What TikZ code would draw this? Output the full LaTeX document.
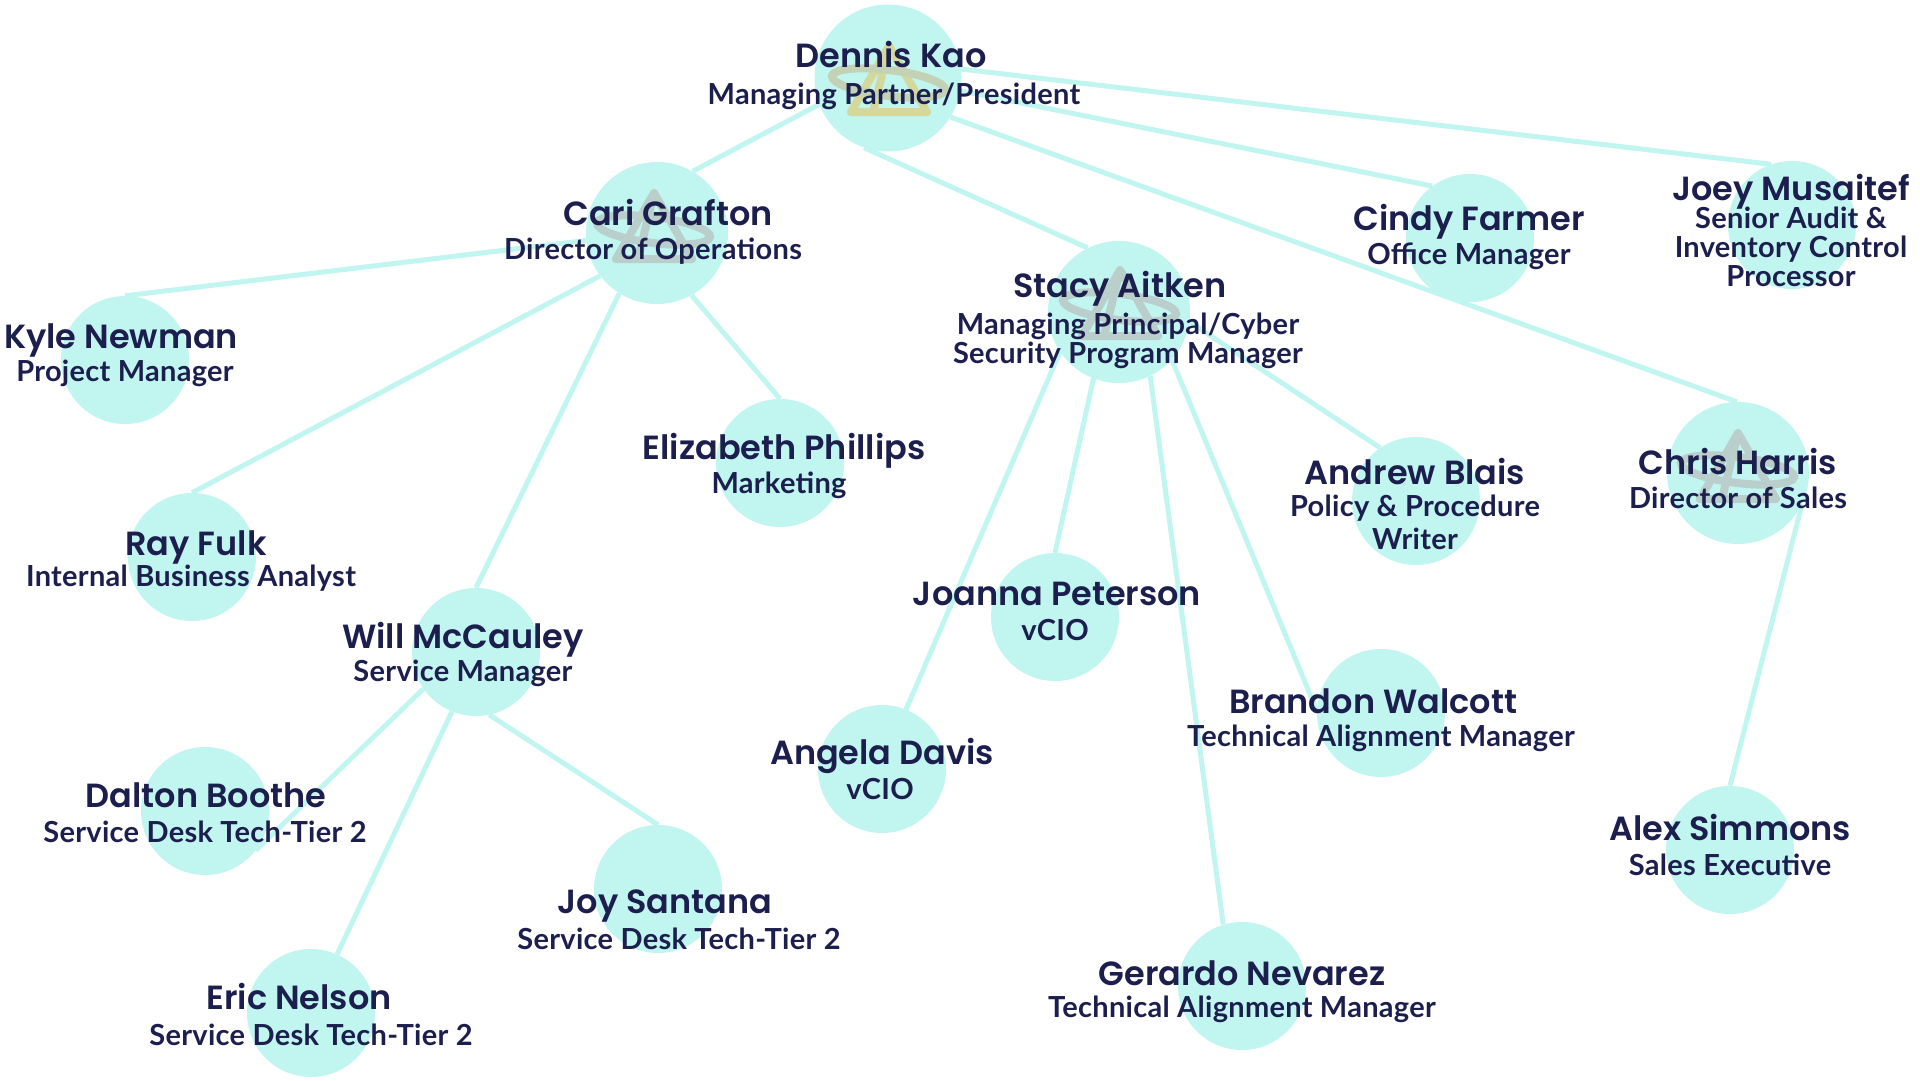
\documentclass[tikz,border=0pt]{standalone}
\usepackage{fontspec}
\newfontfamily\namefont{Poppins SemiBold}
\newfontfamily\jobfont[LetterSpace=1]{Lato}
\definecolor{aqua}{HTML}{C0F5F0}
\definecolor{navy}{HTML}{1C1F4D}
\definecolor{crowngold}{HTML}{D4D89C}
\definecolor{crownring}{HTML}{C3D2B5}
\definecolor{crowngray}{HTML}{BACECB}
\tikzset{
	person/.style={circle,fill=aqua,inner sep=0pt,minimum size=#1},
	person/.default=128pt,
	bigperson/.style={person=142pt},
	link/.style={draw=aqua,line width=5pt},
	whoname/.style={anchor=base,text=navy,font=\namefont\fontsize{33.5}{36}\selectfont,inner sep=0pt},
	whojob/.style={anchor=base,text=navy,font=\jobfont\bfseries\fontsize{29}{29}\selectfont,align=center,inner sep=0pt},
	pics/crown/.style 2 args={code={
		\draw[#1,line width=8pt,line join=round] (0,-33) -- (38,33) -- (-38,33) -- cycle (0,-33) -- (-16,33);
		\draw[#2,line width=8pt,rotate=-7] (0,4) ellipse (57 and 13);
	}},
}
\begin{document}
\begin{tikzpicture}[x=1pt,y=-1pt]
	\useasboundingbox (0,0) rectangle (1920,1080);
	% circles
	\node[person=147pt] (dennis) at (888,78) {};
	\node[bigperson] (cari) at (657,233) {};
	\node[bigperson] (stacy) at (1119,312) {};
	\node[bigperson] (chris) at (1738,473) {};
	\node[person] (cindy) at (1470,238) {};
	\node[person] (joey) at (1792,225) {};
	\node[person] (kyle) at (125,360) {};
	\node[person] (ray) at (192,557) {};
	\node[person] (will) at (476,652) {};
	\node[person] (elizabeth) at (780,463) {};
	\node[person] (dalton) at (205,811) {};
	\node[person] (joy) at (658,889) {};
	\node[person] (eric) at (311,1013) {};
	\node[person] (joanna) at (1055,617) {};
	\node[person] (angela) at (882,769) {};
	\node[person] (andrew) at (1416,501) {};
	\node[person] (brandon) at (1381,713) {};
	\node[person] (gerardo) at (1242,986) {};
	\node[person] (alex) at (1730,850) {};
	% connectors
	\draw[link] (dennis.201) -- (cari.60);
	\draw[link] (dennis.251) -- (stacy.116);
	\draw[link] (dennis.-32) -- (chris.91);
	\draw[link] (dennis.-10) -- (cindy.126);
	\draw[link] (dennis.7) -- (joey.109);
	\draw[link] (cari.186) -- (kyle.90);
	\draw[link] (cari.217) -- (ray.90);
	\draw[link] (cari.238) -- (will.90);
	\draw[link] (cari.-61) -- (elizabeth.90);
	\draw[link] (will.215) -- (dalton.-38);
	\draw[link] (will.248) -- (eric.66);
	\draw[link] (will.282) -- (joy.90);
	\draw[link] (stacy.214) -- (angela.68);
	\draw[link] (stacy.249) -- (joanna.90);
	\draw[link] (stacy.-64) -- (gerardo.107);
	\draw[link] (stacy.-42) -- (brandon.178);
	\draw[link] (stacy.-8) -- (andrew.124);
	\draw[link] (chris.-26) -- (alex.90);
	% crowns
	\pic at (889,79) {crown={crowngold}{crownring}};
	\pic at (654,226) {crown={crowngray}{crowngray}};
	\pic at (1120,303) {crown={crowngray}{crowngray}};
	\pic at (1738,466) {crown={crowngray}{crowngray}};
	% labels
	\node[whoname] (dennisname) at (891,67) {Dennis Kao};
	\node[whojob] (dennisjob) at (894,104) {Managing Partner/President};
	\node[whoname] (cariname) at (668,225) {Cari Grafton};
	\node[whojob] (carijob) at (653,259) {Director of Operations};
	\node[whoname] (kylename) at (121,348) {Kyle Newman};
	\node[whojob] (kylejob) at (125,381) {Project Manager};
	\node[whoname] (rayname) at (196,555) {Ray Fulk};
	\node[whojob] (rayjob) at (191,586) {Internal Business Analyst};
	\node[whoname] (willname) at (463,648) {Will McCauley};
	\node[whojob] (willjob) at (463,681) {Service Manager};
	\node[whoname] (elizabethname) at (784,459) {Elizabeth Phillips};
	\node[whojob] (elizabethjob) at (779,493) {Marketing};
	\node[whoname] (daltonname) at (206,807) {Dalton Boothe};
	\node[whojob] (daltonjob) at (205,842) {Service Desk Tech-Tier 2};
	\node[whoname] (joyname) at (665,913) {Joy Santana};
	\node[whojob] (joyjob) at (679,949) {Service Desk Tech-Tier 2};
	\node[whoname] (ericname) at (299,1009) {Eric Nelson};
	\node[whojob] (ericjob) at (311,1045) {Service Desk Tech-Tier 2};
	\node[whoname] (stacyname) at (1120,297) {Stacy Aitken};
	\node[whojob,anchor=center] (stacyjob) at (1128,341) {Managing Principal/Cyber\\Security Program Manager};
	\node[whoname] (cindyname) at (1469,230) {Cindy Farmer};
	\node[whojob] (cindyjob) at (1469,264) {Office Manager};
	\node[whoname] (joeyname) at (1791,200) {Joey Musaitef};
	\node[whojob,anchor=center] (joeyjob) at (1791,247) {Senior Audit \&\\Inventory Control\\Processor};
	\node[whoname] (chrisname) at (1738,474) {Chris Harris};
	\node[whojob] (chrisjob) at (1738,508) {Director of Sales};
	\node[whoname] (andrewname) at (1415,484) {Andrew Blais};
	\node[whojob,anchor=center] (andrewjob) at (1415,522) {Policy \& Procedure\\[4pt]Writer};
	\node[whoname] (joannaname) at (1057,605) {Joanna Peterson};
	\node[whojob] (joannajob) at (1055,640) {vCIO};
	\node[whoname] (angelaname) at (882,764) {Angela Davis};
	\node[whojob] (angelajob) at (880,799) {vCIO};
	\node[whoname] (brandonname) at (1373,713) {Brandon Walcott};
	\node[whojob] (brandonjob) at (1381,746) {Technical Alignment Manager};
	\node[whoname] (gerardoname) at (1242,985) {Gerardo Nevarez};
	\node[whojob] (gerardojob) at (1242,1017) {Technical Alignment Manager};
	\node[whoname] (alexname) at (1730,840) {Alex Simmons};
	\node[whojob] (alexjob) at (1730,875) {Sales Executive};
\end{tikzpicture}
\end{document}
